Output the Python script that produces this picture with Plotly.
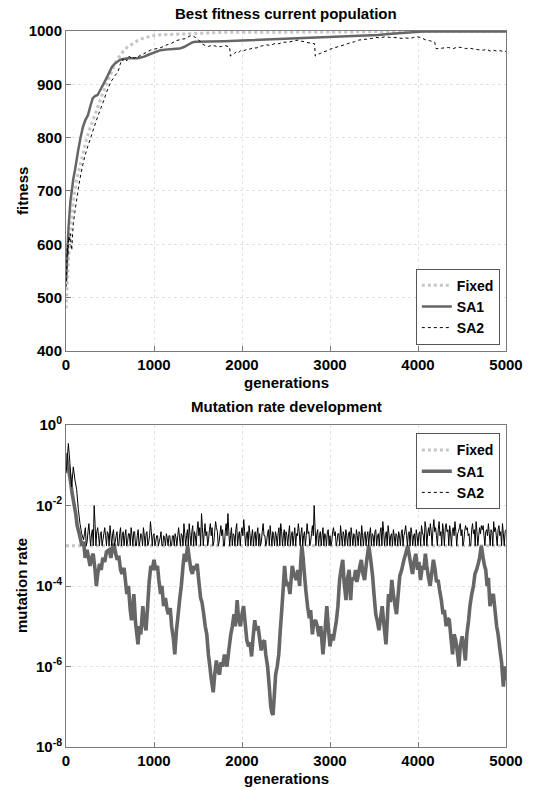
import plotly.graph_objects as go

# ---------------- axis ticks ----------------
generation_ticks = [0, 1000, 2000, 3000, 4000, 5000]
fitness_ticks = [400, 500, 600, 700, 800, 900, 1000]
rate_tick_values = [1e0, 1e-2, 1e-4, 1e-6, 1e-8]
rate_tick_labels = ["10<sup>0</sup>", "10<sup>-2</sup>", "10<sup>-4</sup>", "10<sup>-6</sup>", "10<sup>-8</sup>"]
series_names = ["Fixed", "SA1", "SA2"]

# ---------------- top: best fitness ----------------
fixed_fit_gens = [0, 5, 15, 29, 45, 66, 90, 121, 150, 176, 200, 231, 260, 304, 340, 377, 410, 450, 490, 523,
                  560, 597, 630, 660, 700, 743, 780, 816, 870, 926, 980, 1036, 1120, 1219, 1300, 1402, 1500,
                  1621, 1800, 2000, 2500, 3000, 3500, 3800, 4000, 4500, 5000]
fixed_fit = [480, 500, 530, 571, 610, 652, 690, 721, 742, 758, 775, 796, 812, 833, 850, 864, 880, 896, 912, 927,
             940, 950, 958, 964, 970, 975, 979, 982, 986, 989, 991, 992.5, 993, 994, 995, 996, 996.5,
             997, 997.5, 997.5, 997.5, 998, 998.5, 999, 999.5, 999.5, 999.5]

sa1_fit_gens = [0, 10, 29, 50, 66, 85, 102, 120, 139, 165, 194, 220, 249, 275, 304, 330, 359, 385, 414, 440,
                468, 495, 523, 550, 578, 605, 633, 706, 816, 850, 889, 930, 981, 1030, 1072, 1182, 1292, 1340,
                1402, 1440, 1475, 1621, 1800, 2000, 2454, 2800, 3200, 3545, 3700, 3909, 3982, 4054, 4500, 5000]
sa1_fit = [530, 580, 633, 680, 702, 725, 739, 760, 777, 800, 821, 833, 842, 858, 874, 878, 880, 888, 896, 905,
           914, 924, 933, 938, 942, 945, 947, 949, 949, 950, 952, 955, 958, 962, 964, 966, 967, 970,
           976, 979, 980, 980, 981, 982, 985, 987, 990, 992.5, 995, 997.5, 997.5, 999, 999, 999]

sa2_fit_gens = [0, 8, 15, 22, 29, 38, 48, 57, 66, 75, 84, 100, 121, 140, 157, 185, 212, 250, 285, 320, 359, 395,
                432, 460, 487, 505, 523, 540, 560, 580, 597, 615, 633, 650, 670, 690, 710, 725, 745, 760, 780,
                800, 820, 853, 880, 926, 960, 1000, 1036, 1080, 1120, 1146, 1200, 1255, 1300, 1365, 1400, 1420,
                1450, 1470, 1493, 1520, 1545, 1567, 1590, 1621, 1650, 1695, 1720, 1768, 1800, 1841, 1860, 1868,
                1890, 1915, 1933, 1960, 1988, 2020, 2060, 2091, 2130, 2160, 2200, 2236, 2280, 2320, 2382, 2420,
                2460, 2527, 2580, 2636, 2670, 2709, 2750, 2800, 2825, 2832, 2860, 2890, 2927, 2970, 3000, 3036,
                3080, 3120, 3182, 3230, 3280, 3327, 3380, 3430, 3473, 3520, 3570, 3618, 3680, 3764, 3820, 3860,
                3909, 3950, 4000, 4040, 4091, 4130, 4164, 4190, 4205, 4240, 4280, 4345, 4400, 4450, 4491, 4540,
                4580, 4636, 4680, 4745, 4780, 4818, 4860, 4900, 4940, 4970, 5000]
sa2_fit = [520, 550, 600, 580, 614, 605, 620, 600, 589, 620, 639, 660, 683, 705, 721, 745, 764, 785, 802, 820, 839, 855,
           871, 885, 896, 903, 908, 912, 917, 921, 927, 937, 946, 945, 949, 944, 952, 952, 948, 950, 949,
           953, 952, 955, 957, 961, 964, 966, 967, 969, 972, 974, 977, 982, 984, 986, 990, 991,
           990, 988, 986, 981, 976, 974, 972, 971, 973, 972, 970, 971, 973, 971, 970, 953,
           955, 958, 961, 959, 964, 963, 966, 966, 969, 968, 971, 972.5, 974, 973, 977, 976,
           979, 979, 981, 983, 981, 980, 978, 977, 976, 953, 956, 958, 961, 963, 966, 967.5,
           970, 972, 975, 978, 980, 983, 984, 985, 986, 988, 987, 989, 988, 987.5, 986, 987,
           986, 988, 989, 987, 983, 982, 980, 979, 967, 967, 968, 969, 967, 970, 969, 967,
           968, 966, 965, 964, 966, 962.5, 964, 962, 963, 961, 962]

# ---------------- bottom: mutation rate (log10 of rate) ----------------
fixed_rate_gens = [0, 5000]
fixed_rate_log10 = [-3.0, -3.0]

sa1_rate_gens = [0, 20, 45, 70, 90, 110, 127, 150, 182, 200, 218, 240, 273, 290, 309, 330, 345, 360, 382, 400, 418,
                 440, 460, 491, 510, 530, 545, 565, 582, 600, 620, 636, 660, 691, 710, 730, 745, 760, 771, 790,
                 805, 818, 835, 850, 873, 890, 909, 925, 945, 964, 980, 1000, 1020, 1040, 1055, 1075, 1090, 1109,
                 1130, 1150, 1164, 1185, 1200, 1220, 1236, 1255, 1270, 1291, 1310, 1330, 1345, 1360, 1382, 1400,
                 1420, 1436, 1455, 1470, 1491, 1510, 1530, 1545, 1565, 1582, 1600, 1618, 1635, 1650, 1673, 1690,
                 1709, 1725, 1745, 1760, 1780, 1800, 1815, 1829, 1850, 1873, 1890, 1909, 1925, 1945, 1960, 1982,
                 2000, 2018, 2035, 2055, 2075, 2090, 2109, 2125, 2145, 2160, 2182, 2200, 2218, 2235, 2255, 2270,
                 2291, 2310, 2327, 2340, 2353, 2365, 2382, 2400, 2418, 2435, 2455, 2470, 2484, 2495, 2509, 2525,
                 2545, 2560, 2571, 2590, 2618, 2635, 2655, 2668, 2680, 2695, 2709, 2725, 2745, 2765, 2780, 2800,
                 2815, 2836, 2855, 2873, 2895, 2920, 2940, 2964, 2980, 3000, 3020, 3036, 3055, 3073, 3090, 3109,
                 3125, 3145, 3160, 3182, 3200, 3218, 3235, 3250, 3273, 3290, 3305, 3320, 3340, 3356, 3375, 3393,
                 3415, 3440, 3460, 3484, 3500, 3520, 3540, 3556, 3575, 3593, 3615, 3636, 3650, 3665, 3685, 3702,
                 3720, 3740, 3756, 3775, 3793, 3815, 3840, 3860, 3884, 3905, 3920, 3938, 3955, 3975, 3995, 4010,
                 4029, 4050, 4065, 4084, 4100, 4120, 4138, 4155, 4175, 4195, 4210, 4229, 4245, 4265, 4285, 4300,
                 4320, 4336, 4356, 4375, 4393, 4410, 4429, 4445, 4465, 4480, 4502, 4520, 4538, 4555, 4575, 4590,
                 4611, 4630, 4647, 4665, 4684, 4700, 4720, 4740, 4756, 4770, 4785, 4800, 4818, 4835, 4856, 4875,
                 4894, 4910, 4932, 4950, 4970, 4980, 4989, 5000]
sa1_rate_log10 = [-0.7, -1.0, -1.3, -1.7, -1.95, -2.2, -2.5, -2.7, -3.0, -2.9, -3.3, -3.1, -3.5, -3.3, -3.2, -3.6, -4.0, -3.7, -3.45, -3.6, -3.3,
                  -3.4, -3.15, -3.1, -3.3, -3.05, -2.95, -3.2, -3.35, -3.25, -3.6, -3.7, -3.55, -4.2, -4.0, -4.6, -4.85, -4.5, -4.2, -4.9,
                  -5.2, -5.45, -5.0, -5.2, -4.5, -4.9, -5.1, -4.6, -3.9, -3.5, -3.6, -3.35, -3.6, -3.5, -3.85, -4.2, -4.0, -4.5,
                  -4.3, -4.6, -4.7, -4.55, -5.0, -5.3, -5.7, -5.1, -4.8, -4.35, -4.0, -3.5, -3.2, -3.4, -3.0, -3.3,
                  -3.6, -3.7, -3.5, -3.6, -3.45, -3.9, -4.3, -4.4, -4.7, -5.0, -5.2, -5.7, -6.0, -6.3, -6.64, -6.2,
                  -5.85, -6.1, -6.2, -5.9, -6.0, -5.7, -5.9, -6.0, -5.6, -5.2, -5.0, -4.7, -5.0, -4.35, -4.8, -5.0,
                  -4.7, -4.5, -4.9, -5.35, -5.5, -5.4, -5.75, -5.3, -4.85, -5.1, -5.0, -5.3, -5.6, -5.4, -5.35, -5.7,
                  -6.0, -6.5, -7.0, -7.15, -7.2, -6.8, -6.2, -6.0, -5.7, -5.1, -4.5, -4.0, -3.5, -3.8, -4.0, -3.9,
                  -4.2, -3.8, -3.5, -3.7, -3.85, -3.6, -4.0, -3.4, -3.0, -3.3, -3.7, -4.1, -4.5, -4.8, -4.6, -5.2,
                  -4.9, -4.85, -5.0, -5.25, -5.0, -5.7, -5.2, -4.5, -5.0, -5.5, -5.2, -5.35, -5.1, -4.85, -4.5, -3.85,
                  -3.6, -3.35, -3.9, -4.35, -3.8, -3.6, -4.35, -3.8, -3.85, -3.6, -3.9, -3.75, -3.5, -3.35, -3.7, -3.85,
                  -3.4, -3.0, -3.3, -3.75, -4.2, -4.7, -4.9, -5.1, -4.8, -4.5, -5.0, -5.45, -4.9, -4.2, -4.4, -3.85,
                  -4.2, -4.5, -4.7, -4.2, -3.75, -3.6, -3.35, -3.2, -3.0, -3.3, -3.5, -3.7, -3.4, -3.2, -3.6, -3.4,
                  -3.85, -3.5, -3.6, -3.2, -3.5, -3.8, -4.0, -3.7, -3.35, -3.6, -3.9, -3.85, -4.1, -4.35, -4.7, -4.6,
                  -5.0, -4.8, -4.85, -5.3, -5.7, -5.2, -5.35, -5.6, -6.0, -5.5, -5.25, -5.5, -5.85, -5.2, -4.85, -4.5,
                  -4.2, -4.0, -3.7, -3.6, -3.45, -3.3, -3.0, -3.3, -3.5, -3.6, -4.0, -3.8, -4.5, -4.3, -4.2, -4.6,
                  -5.0, -5.2, -5.6, -5.9, -6.5, -6.2, -6.0, -6.35]

sa2_rate_early_gens = [0, 8, 27, 45, 64, 83, 102, 121, 140, 159, 178]
sa2_rate_early_log10 = [-1.2, -1.04, -0.46, -0.96, -1.54, -1.04, -1.37, -1.6, -2.1, -2.45, -2.7]
# one reading every 10 generations from 200 to 5000 (20 readings per row)
sa2_rate_late_log10 = [
    -2.85, -2.7, -2.55, -3, -2.9, -2.65, -2.45, -2.75, -3, -2.7, -2.6, -3, -2.0, -2.45, -3, -2.65, -2.55, -2.75, -3, -2.7,
    -2.65, -3, -2.85, -2.7, -2.55, -2.75, -3, -2.65, -2.7, -3, -2.5, -2.75, -3, -2.7, -2.6, -3, -2.9, -2.75, -2.65, -3,
    -3, -2.7, -2.55, -3, -2.75, -2.65, -3, -2.75, -2.6, -3, -2.9, -2.7, -2.7, -3, -2.55, -2.75, -3, -2.65, -2.65, -3,
    -3, -2.75, -2.6, -3, -2.9, -2.7, -2.75, -3, -2.55, -2.75, -3, -2.7, -2.65, -3, -2.9, -2.75, -2.4, -2.65, -3, -2.75,
    -2.7, -3, -2.9, -2.75, -2.75, -3, -2.9, -2.8, -2.65, -3, -3, -2.75, -2.8, -3, -2.7, -2.8, -3, -2.75, -2.75, -3,
    -3, -2.75, -2.75, -3, -2.7, -2.8, -3, -2.75, -2.55, -2.8, -3, -2.7, -2.75, -3, -2.45, -2.7, -3, -2.75, -2.6, -3,
    -2.45, -2.75, -3, -2.65, -2.5, -3, -2.65, -2.75, -3, -2.6, -2.4, -2.75, -2.55, -3, -2.2, -2.55, -3, -2.7, -2.45, -2.75,
    -2.65, -3, -2.85, -2.6, -2.45, -2.75, -2.55, -3, -2.9, -2.65, -2.4, -2.55, -2.65, -3, -2.9, -2.7, -2.5, -2.75, -2.6, -3,
    -3, -2.65, -2.45, -2.75, -2.2, -2.65, -3, -2.75, -2.55, -3, -2.7, -2.75, -3, -2.6, -2.45, -3, -2.75, -2.65, -3, -2.7,
    -2.55, -2.75, -2.35, -2.65, -3, -2.75, -2.65, -3, -2.5, -2.7, -3, -2.75, -2.6, -3, -2.75, -2.65, -3, -2.7, -2.55, -3,
    -2.7, -3, -2.9, -2.65, -2.45, -2.75, -2.75, -3, -2.9, -2.7, -2.6, -3, -2.5, -2.75, -3, -2.65, -2.75, -3, -2.65, -2.75,
    -3, -2.7, -2.55, -3, -2.45, -2.65, -3, -2.75, -2.6, -3, -2.65, -2.75, -3, -2.7, -2.5, -3, -2.75, -2.65, -3, -2.75,
    -2.55, -3, -2.7, -2.75, -2.45, -2.65, -3, -2.7, -2.55, -3, -2.75, -2.65, -3, -2.75, -2.45, -2.7, -2.65, -3, -2.9, -2.7,
    -2.5, -2.75, -2.0, -2.55, -3, -2.7, -2.6, -3, -2.75, -2.65, -3, -2.75, -2.55, -3, -2.7, -2.75, -3, -2.65, -2.6, -3,
    -2.75, -3, -2.9, -2.65, -2.55, -2.75, -2.65, -3, -2.9, -2.7, -2.7, -3, -2.5, -2.75, -3, -2.65, -2.75, -3, -2.6, -2.75,
    -3, -2.7, -2.65, -3, -2.55, -2.75, -3, -2.7, -2.75, -3, -2.6, -2.75, -3, -2.65, -2.7, -3, -2.5, -2.75, -3, -2.7,
    -2.65, -3, -2.75, -2.65, -3, -2.7, -2.55, -3, -2.7, -2.75, -3, -2.65, -2.6, -3, -2.75, -2.7, -3, -2.65, -2.55, -3,
    -2.4, -2.65, -3, -2.75, -2.65, -3, -2.5, -2.7, -3, -2.75, -2.7, -3, -2.6, -2.75, -3, -2.7, -2.75, -3, -2.65, -2.75,
    -3, -2.7, -2.6, -3, -2.75, -2.65, -2.5, -2.75, -3, -2.7, -2.65, -3, -2.55, -2.7, -3, -2.75, -2.7, -3, -2.6, -2.75,
    -3, -2.7, -2.65, -3, -2.5, -2.65, -2.75, -3, -2.4, -2.55, -3, -2.7, -2.55, -2.75, -2.45, -2.65, -3, -2.6, -2.35, -2.65,
    -2.55, -2.75, -3, -2.6, -2.4, -2.75, -2.65, -3, -2.45, -2.65, -3, -2.55, -2.45, -2.65, -2.6, -3, -2.5, -2.7, -3, -2.65,
    -2.55, -2.75, -2.4, -2.65, -3, -2.7, -2.65, -2.55, -2.45, -2.75, -2.6, -3, -2.9, -2.65, -2.5, -2.6, -2.55, -2.75, -2.7, -3,
    -3, -2.6, -2.45, -2.7, -2.6, -3, -2.4, -2.65, -3, -2.75, -2.55, -2.7, -2.5, -2.6, -2.5, -2.75, -3, -2.65, -2.6, -2.75,
    -2.45, -2.7, -3, -2.6, -2.65, -3, -2.4, -2.65, -2.55, -2.75, -3, -2.6, -2.5, -2.75, -2.65, -3, -2.45, -2.7, -3, -2.65,
    -2.6]
sa2_rate_gens = sa2_rate_early_gens + list(range(200, 5001, 10))
sa2_rate_log10 = sa2_rate_early_log10 + sa2_rate_late_log10

# ---------------- styling ----------------
FONT = "Liberation Sans, Arial, sans-serif"
C_FIXED = "#c6c6c6"
C_SA1 = "#666666"
C_SA2 = "#000000"
LEG_FONT = dict(family=FONT, size=14, color="black", weight="bold")

fig = go.Figure()

# top panel
fig.add_trace(go.Scatter(x=fixed_fit_gens, y=fixed_fit, name=series_names[0], mode="lines",
                         line=dict(color=C_FIXED, width=3, dash="dot"), xaxis="x", yaxis="y", legend="legend"))
fig.add_trace(go.Scatter(x=sa1_fit_gens, y=sa1_fit, name=series_names[1], mode="lines",
                         line=dict(color=C_SA1, width=2.5), xaxis="x", yaxis="y", legend="legend"))
fig.add_trace(go.Scatter(x=sa2_fit_gens, y=sa2_fit, name=series_names[2], mode="lines",
                         line=dict(color=C_SA2, width=1, dash="dot", simplify=False), xaxis="x", yaxis="y", legend="legend"))

# bottom panel
fig.add_trace(go.Scatter(x=fixed_rate_gens, y=[10 ** v for v in fixed_rate_log10], name=series_names[0], mode="lines",
                         line=dict(color=C_FIXED, width=3, dash="dot"), xaxis="x2", yaxis="y2", legend="legend2"))
fig.add_trace(go.Scatter(x=sa1_rate_gens, y=[10 ** v for v in sa1_rate_log10], name=series_names[1], mode="lines",
                         line=dict(color=C_SA1, width=3.6, simplify=False), xaxis="x2", yaxis="y2", legend="legend2"))
fig.add_trace(go.Scatter(x=sa2_rate_gens, y=[10 ** v for v in sa2_rate_log10], name=series_names[2], mode="lines",
                         line=dict(color=C_SA2, width=1, simplify=False), xaxis="x2", yaxis="y2", showlegend=False))
# legend entry for the bottom SA2 series (dotted sample, as in the reference legend)
fig.add_trace(go.Scatter(x=[None], y=[None], name=series_names[2], mode="lines",
                         line=dict(color=C_SA2, width=1, dash="dot"), xaxis="x2", yaxis="y2", legend="legend2"))

axis_common = dict(showline=True, mirror=True, linecolor="#7a7a7a", linewidth=1,
                   ticks="inside", ticklen=5, tickcolor="#7a7a7a",
                   showgrid=True, gridcolor="#e2e2e2", griddash="3px,3px", gridwidth=1,
                   zeroline=False, tickfont=dict(family=FONT, size=15, color="black", weight="bold"))

fig.update_layout(
    width=543, height=790, autosize=False,
    margin=dict(l=66, r=37, t=31, b=43),
    paper_bgcolor="white", plot_bgcolor="white",
    font=dict(family=FONT, size=15, color="black", weight="bold"),
    xaxis=dict(domain=[0, 1], anchor="y", range=[0, 5000], tickvals=generation_ticks, **axis_common),
    yaxis=dict(domain=[0.5531, 1], anchor="x", range=[400, 1000], tickvals=fitness_ticks, **axis_common),
    xaxis2=dict(domain=[0, 1], anchor="y2", range=[0, 5000], tickvals=generation_ticks, **axis_common),
    yaxis2=dict(domain=[0, 0.4497], anchor="x2", type="log", range=[-8, 0],
                tickvals=rate_tick_values, ticktext=rate_tick_labels, **axis_common),
    legend=dict(x=0.986, xanchor="right", y=0.562, yanchor="bottom", bgcolor="white",
                bordercolor="#555555", borderwidth=1, font=LEG_FONT, tracegroupgap=0, itemwidth=30),
    legend2=dict(x=0.986, xanchor="right", y=0.438, yanchor="top", bgcolor="white",
                 bordercolor="#555555", borderwidth=1, font=LEG_FONT, tracegroupgap=0, itemwidth=30),
    showlegend=True,
)

ann_font = dict(family=FONT, size=15, color="black", weight="bold")
fig.add_annotation(text="Best fitness current population", xref="paper", yref="paper", x=0.5, y=1.0251,
                   xanchor="center", yanchor="middle", showarrow=False, font=ann_font)
fig.add_annotation(text="Mutation rate development", xref="paper", yref="paper", x=0.5, y=0.4749,
                   xanchor="center", yanchor="middle", showarrow=False, font=ann_font)
fig.add_annotation(text="generations", xref="paper", yref="paper", x=0.5, y=0.5084,
                   xanchor="center", yanchor="middle", showarrow=False, font=ann_font)
fig.add_annotation(text="generations", xref="paper", yref="paper", x=0.5, y=-0.0433,
                   xanchor="center", yanchor="middle", showarrow=False, font=ann_font)
fig.add_annotation(text="fitness", xref="paper", yref="paper", x=-0.1, y=0.7765, textangle=-90,
                   xanchor="center", yanchor="middle", showarrow=False, font=ann_font)
fig.add_annotation(text="mutation rate", xref="paper", yref="paper", x=-0.1, y=0.2249, textangle=-90,
                   xanchor="center", yanchor="middle", showarrow=False, font=ann_font)

fig.write_html("out.html")
